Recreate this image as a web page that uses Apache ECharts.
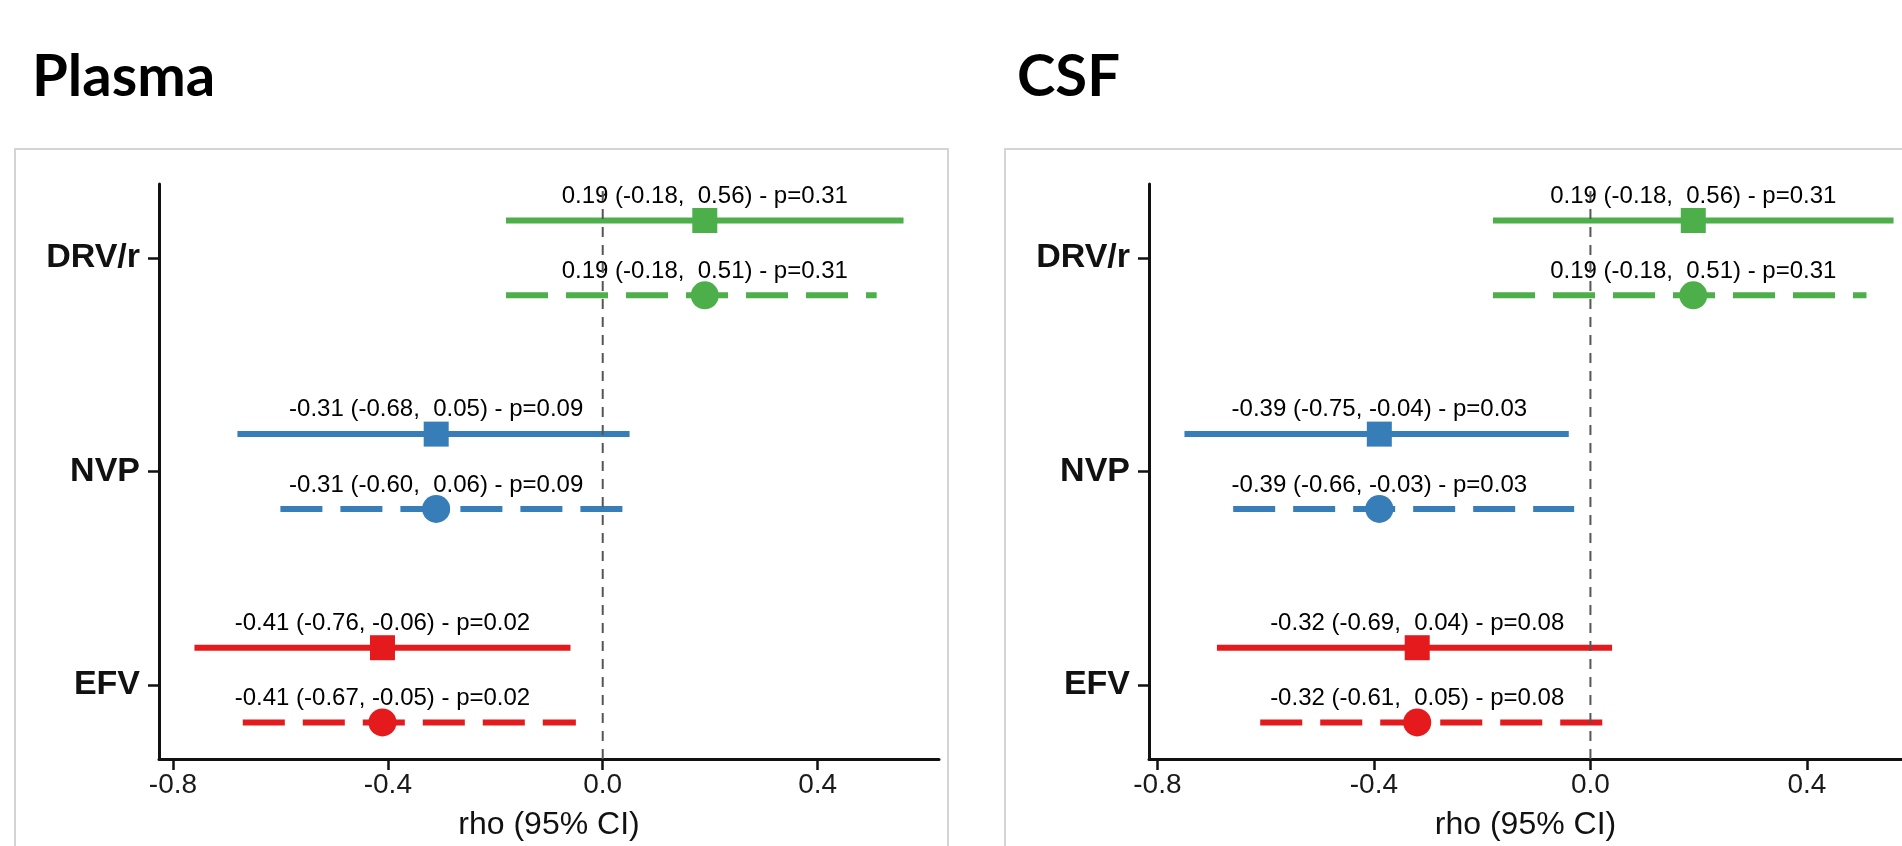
<!DOCTYPE html>
<html>
<head>
<meta charset="utf-8">
<title>Plasma / CSF rho</title>
<script src="https://cdn.jsdelivr.net/npm/echarts@6/dist/echarts.min.js"></script>
<style>
  html, body { margin: 0; padding: 0; background: #fff; }
  #main { width: 1902px; height: 846px; }
</style>
</head>
<body>
<div id="main"></div>
<script>
// rows from bottom to top
var categories = ['EFV', 'NVP', 'DRV/r'];
var rowColors = ['#e41a1c', '#377eb8', '#4daf4a'];
var xTicks = [-0.8, -0.4, 0.0, 0.4];

// Plasma: square = solid CI, circle = dashed CI
var plasmaEst    = [-0.41, -0.31, 0.19];
var plasmaSolidLo = [-0.76, -0.68, -0.18];
var plasmaSolidHi = [-0.06, 0.05, 0.56];
var plasmaDashLo  = [-0.67, -0.60, -0.18];
var plasmaDashHi  = [-0.05, 0.06, 0.51];
var plasmaP       = [0.02, 0.09, 0.31];

// CSF
var csfEst     = [-0.32, -0.39, 0.19];
var csfSolidLo = [-0.69, -0.75, -0.18];
var csfSolidHi = [0.04, -0.04, 0.56];
var csfDashLo  = [-0.61, -0.66, -0.18];
var csfDashHi  = [0.05, -0.03, 0.51];
var csfP       = [0.08, 0.03, 0.31];

var chart = echarts.init(document.getElementById('main'));

// dodge of the two rows inside a category
var DODGE = 0.175;

function pad(v) {
  var s = v.toFixed(2);
  return s.length < 5 ? ' ' + s : s;
}
function labelText(est, lo, hi, p) {
  return est.toFixed(2) + ' (' + pad(lo) + ', ' + pad(hi) + ') - p=' + p.toFixed(2);
}

function panelSeries(idx, est, sLo, sHi, dLo, dHi, p) {
  var ciData = [];
  var sqData = [];
  var dotData = [];
  for (var i = 0; i < categories.length; i++) {
    var y = i + 1;
    ciData.push([sLo[i], sHi[i], y + DODGE, 0, i]);
    ciData.push([dLo[i], dHi[i], y - DODGE, 1, i]);
    sqData.push({
      value: [est[i], y + DODGE],
      itemStyle: { color: rowColors[i], opacity: 1 },
      label: { formatter: labelText(est[i], sLo[i], sHi[i], p[i]) }
    });
    dotData.push({
      value: [est[i], y - DODGE],
      itemStyle: { color: rowColors[i], opacity: 1 },
      label: { formatter: labelText(est[i], dLo[i], dHi[i], p[i]) }
    });
  }
  var labelStyle = {
    show: true, position: 'top', color: '#000',
    fontFamily: 'Liberation Sans', fontSize: 24
  };
  return [
    {
      type: 'custom', xAxisIndex: idx, yAxisIndex: idx,
      data: ciData,
      encode: { x: [0, 1], y: 2 },
      renderItem: function (params, api) {
        var y = api.value(2);
        var a = api.coord([api.value(0), y]);
        var b = api.coord([api.value(1), y]);
        return {
          type: 'line',
          shape: { x1: a[0], y1: a[1], x2: b[0], y2: b[1] },
          style: {
            stroke: rowColors[api.value(4)],
            lineWidth: 6,
            lineDash: api.value(3) === 1 ? [42, 18] : null
          }
        };
      },
      z: 2
    },
    {
      type: 'scatter', xAxisIndex: idx, yAxisIndex: idx,
      symbol: 'rect', symbolSize: 25,
      itemStyle: { opacity: 1 },
      data: sqData,
      label: Object.assign({ distance: 0 }, labelStyle),
      z: 3
    },
    {
      type: 'scatter', xAxisIndex: idx, yAxisIndex: idx,
      symbol: 'circle', symbolSize: 28,
      itemStyle: { opacity: 1 },
      data: dotData,
      label: Object.assign({ distance: -2 }, labelStyle),
      z: 3
    },
    {
      type: 'line', xAxisIndex: idx, yAxisIndex: idx,
      data: [[0, 0.654], [0, 3.346]],
      symbol: 'none', silent: true,
      lineStyle: { color: '#555', width: 2, type: [10, 8] },
      z: 10
    }
  ];
}

function xAxisFor(idx, min, max) {
  return {
    type: 'value', gridIndex: idx, min: min, max: max,
    name: 'rho (95% CI)', nameLocation: 'middle', nameGap: 50,
    nameTextStyle: { fontFamily: 'Liberation Sans', fontSize: 32, color: '#111' },
    axisLine: { show: true, onZero: false, lineStyle: { color: '#111', width: 3 } },
    axisTick: { show: true, customValues: xTicks, length: 11, lineStyle: { color: '#111', width: 2.5 } },
    axisLabel: {
      customValues: xTicks, margin: 12,
      fontFamily: 'Liberation Sans', fontSize: 28, color: '#1a1a1a',
      formatter: function (v) { return v.toFixed(1); }
    },
    splitLine: { show: false }
  };
}

function yAxisFor(idx) {
  return {
    type: 'value', gridIndex: idx, min: 0.654, max: 3.346,
    axisLine: { show: true, onZero: false, lineStyle: { color: '#111', width: 3 } },
    axisTick: { show: true, customValues: [1, 2, 3], length: 11, lineStyle: { color: '#111', width: 2.5 } },
    axisLabel: {
      customValues: [1, 2, 3], margin: 19,
      fontFamily: 'Liberation Sans', fontWeight: 'bold', fontSize: 34, color: '#111',
      formatter: function (v) { return categories[Math.round(v) - 1]; }
    },
    splitLine: { show: false }
  };
}

var option = {
  backgroundColor: '#fff',
  animation: false,
  title: [
    { text: 'Plasma', left: 27, top: 43, textStyle: { fontFamily: 'Lato', fontWeight: 'bold', fontSize: 58, color: '#000' } },
    { text: 'CSF', left: 1012, top: 43, textStyle: { fontFamily: 'Lato', fontWeight: 'bold', fontSize: 58, color: '#000' } }
  ],
  graphic: [
    { type: 'rect', shape: { x: 15, y: 149, width: 933, height: 760 }, style: { fill: null, stroke: '#d4d4d4', lineWidth: 2 }, silent: true },
    { type: 'rect', shape: { x: 1005, y: 149, width: 1000, height: 760 }, style: { fill: null, stroke: '#d4d4d4', lineWidth: 2 }, silent: true }
  ],
  grid: [
    { left: 159, top: 184, width: 780, height: 576 },
    { left: 1149, top: 184, width: 753, height: 576 }
  ],
  // CSF axis runs past the picture edge in the reference, so stop it at the edge
  xAxis: [xAxisFor(0, -0.826, 0.626), xAxisFor(1, -0.8155, 0.5756)],
  yAxis: [yAxisFor(0), yAxisFor(1)],
  series: []
    .concat(panelSeries(0, plasmaEst, plasmaSolidLo, plasmaSolidHi, plasmaDashLo, plasmaDashHi, plasmaP))
    .concat(panelSeries(1, csfEst, csfSolidLo, csfSolidHi, csfDashLo, csfDashHi, csfP))
};

chart.setOption(option);
</script>
</body>
</html>
